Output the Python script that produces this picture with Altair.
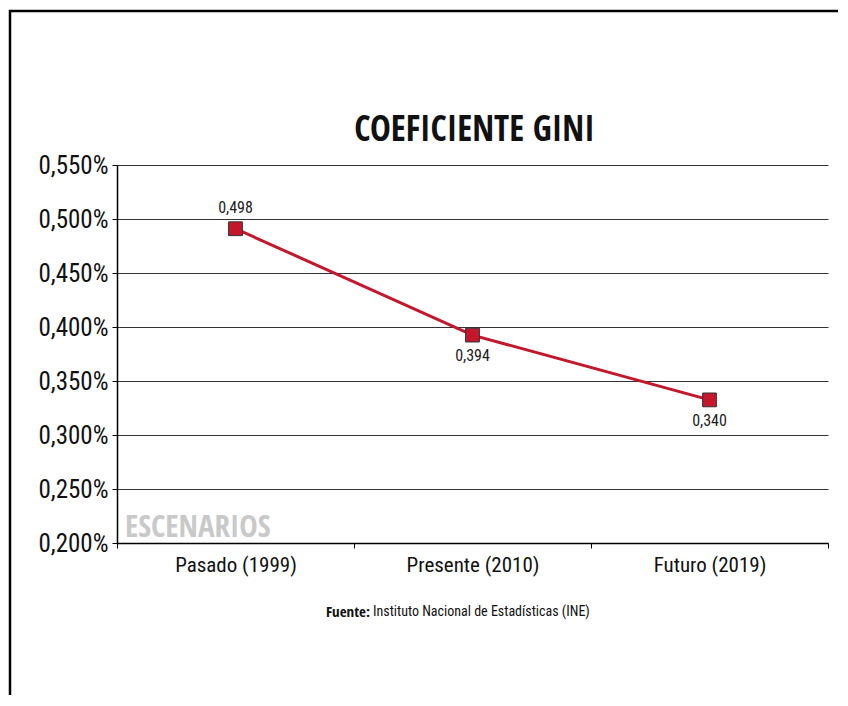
import altair as alt
import pandas as pd

title_text = "COEFICIENTE GINI"
categories = ["Pasado (1999)", "Presente (2010)", "Futuro (2019)"]
plotted = [0.491, 0.3925, 0.3325]
label_text = ["0,498", "0,394", "0,340"]
label_pos = ["above", "below", "below"]
y_ticks = [0.20, 0.25, 0.30, 0.35, 0.40, 0.45, 0.50, 0.55]

df = pd.DataFrame({"cat": categories, "v": plotted, "lbl": label_text, "pos": label_pos})

FONT = "Roboto Condensed, Liberation Sans, sans-serif"
BFONT = "Open Sans Condensed, Roboto Condensed, sans-serif"
W, H = 711, 378
RED = "#c4172c"

x = alt.X("cat:N", sort=categories, title=None,
          scale=alt.Scale(paddingInner=0, paddingOuter=0),
          axis=alt.Axis(labelAngle=0, labelFont=FONT, labelFontSize=21, labelColor="#111",
                        tickBand="extent", tickSize=5, tickColor="#000", domainColor="#000",
                        domainWidth=1.5, labelPadding=6, grid=False))
y = alt.Y("v:Q", title=None,
          scale=alt.Scale(domain=[0.2, 0.55], nice=False, zero=False),
          axis=alt.Axis(values=y_ticks, labelExpr="replace(format(datum.value, '.3f'), '.', ',') + '%'",
                        labelFont=FONT, labelFontSize=25, labelColor="#111", labelPadding=4,
                        tickSize=5, tickColor="#000", domainColor="#000", domainWidth=1.5,
                        grid=True, gridColor="#333", gridWidth=1))

base = alt.Chart(df)

line = base.mark_line(color=RED, strokeWidth=3).encode(x=x, y=y)
pts = base.mark_point(shape="square", size=190, filled=True, fill=RED, stroke="#333",
                      strokeWidth=1, opacity=1).encode(x=x, y=y)
lab_above = base.transform_filter("datum.pos == 'above'").mark_text(
    font=FONT, fontSize=16, color="#222", dy=-21).encode(x=x, y=y, text="lbl:N")
lab_below = base.transform_filter("datum.pos == 'below'").mark_text(
    font=FONT, fontSize=16, color="#222", dy=21).encode(x=x, y=y, text="lbl:N")

title = alt.Chart(pd.DataFrame({"t": [title_text]})).mark_text(
    font=BFONT, fontSize=35, fontWeight="bold", color="#111", align="center", baseline="alphabetic"
).encode(x=alt.value(W / 2 + 2), y=alt.value(-24), text="t:N")

esc = alt.Chart(pd.DataFrame({"t": ["ESCENARIOS"]})).mark_text(
    font=BFONT, fontSize=31, fontWeight="bold", color="#c9c9c9", align="left", baseline="alphabetic"
).encode(x=alt.value(8), y=alt.value(H - 6), text="t:N")

src_bold = alt.Chart(pd.DataFrame({"t": ["Fuente:"]})).mark_text(
    font=BFONT, fontSize=15, fontWeight="bold", color="#111", align="right", baseline="middle"
).encode(x=alt.value(253), y=alt.value(447), text="t:N")
src_rest = alt.Chart(pd.DataFrame({"t": ["Instituto Nacional de Estadísticas (INE)"]})).mark_text(
    font=FONT, fontSize=14, color="#111", align="left", baseline="middle"
).encode(x=alt.value(256), y=alt.value(447), text="t:N")

frame = alt.Chart(pd.DataFrame({"a": [0]})).mark_rect(
    filled=False, stroke="#000", strokeWidth=2.5
).encode(x=alt.value(-107), x2=alt.value(W + 60), y=alt.value(-154), y2=alt.value(H + 220))

chart = alt.layer(frame, line, pts, lab_above, lab_below, title, esc, src_bold, src_rest).properties(
    width=W, height=H,
    autosize=alt.AutoSizeParams(type="none"),
    padding={"left": 109, "top": 157, "right": 10, "bottom": 152},
    background="white",
).configure_view(stroke=None)

chart.save("out.html", embed_options={"renderer": "svg", "actions": False})
